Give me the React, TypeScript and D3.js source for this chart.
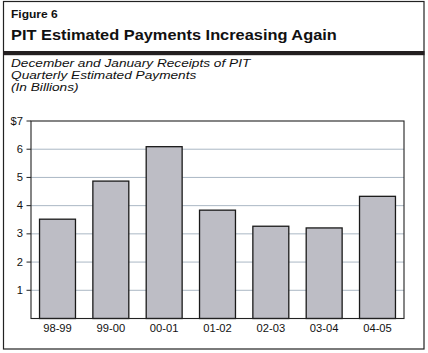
import * as d3 from "d3";

const years = ["98-99", "99-00", "00-01", "01-02", "02-03", "03-04", "04-05"];
const payments = [3.52, 4.87, 6.09, 3.84, 3.27, 3.21, 4.33];
const yTicks = [1, 2, 3, 4, 5, 6, 7];
const subtitle = [
  "December and January Receipts of PIT",
  "Quarterly Estimated Payments",
  "(In Billions)",
];

const W = 428;
const H = 353;
const font = "'Liberation Sans', Arial, Helvetica, sans-serif";

// plot area
const plot = { left: 31, right: 404, top: 121, bottom: 318.5 };

// the reference type is a little wider than Arial, so stretch it sideways
const Label = ({ x, y, sx = 1.12, children, ...rest }: any) => (
  <text transform={`translate(${x},${y}) scale(${sx},1)`} fill="#111" {...rest}>
    {children}
  </text>
);

const App = () => {
  const xScale = d3
    .scaleBand()
    .domain(years)
    .range([plot.left, plot.right])
    .paddingInner(0.326)
    .paddingOuter(0.16);

  const yScale = d3.scaleLinear().domain([0, 7]).range([plot.bottom, plot.top]);

  const bars = years.map((yr, i) => {
    const y = yScale(payments[i]);
    return (
      <rect
        key={yr}
        x={xScale(yr)}
        y={y}
        width={xScale.bandwidth()}
        height={plot.bottom - y}
        fill="#bdbdc5"
        stroke="#1a1a1a"
        strokeWidth={1.3}
      />
    );
  });

  return (
    <svg
      width={W}
      height={H}
      style={{ position: "absolute", left: 0, top: 0, display: "block" }}
      fontFamily={font}
    >
      <rect x={0} y={0} width={W} height={H} fill="#fff" />
      {/* outer frame */}
      <rect x={3.5} y={1.5} width={420.5} height={347.5} fill="none" stroke="#222" strokeWidth={1.2} />
      <rect x={3} y={51} width={421.5} height={4.2} fill="#231f20" />

      <Label x={11} y={17.5} sx={1.18} fontSize={10.2} fontWeight="bold">
        Figure 6
      </Label>
      <Label x={11} y={39.5} sx={1.17} fontSize={14} fontWeight="bold">
        PIT Estimated Payments Increasing Again
      </Label>
      {subtitle.map((s, i) => (
        <Label key={i} x={11} y={66.8 + i * 12.2} sx={1.19} fontSize={11.5} fontStyle="italic">
          {s}
        </Label>
      ))}

      {/* gridlines */}
      {yTicks.slice(0, -1).map((t) => (
        <line
          key={t}
          x1={plot.left}
          x2={plot.right}
          y1={yScale(t)}
          y2={yScale(t)}
          stroke="#aab7c4"
          strokeWidth={1}
        />
      ))}

      {bars}

      {/* plot frame */}
      <rect
        x={plot.left}
        y={plot.top}
        width={plot.right - plot.left}
        height={plot.bottom - plot.top}
        fill="none"
        stroke="#222"
        strokeWidth={1.1}
      />

      {/* y ticks and labels */}
      {yTicks.map((t) => (
        <g key={t}>
          <line x1={plot.left - 4.5} x2={plot.left} y1={yScale(t)} y2={yScale(t)} stroke="#222" strokeWidth={1} />
          <Label x={plot.left - 8} y={yScale(t)} dy="0.35em" textAnchor="end" fontSize={10}>
            {t === 7 ? "$7" : t}
          </Label>
        </g>
      ))}

      {/* x labels */}
      {years.map((yr) => (
        <Label
          key={yr}
          x={(xScale(yr) ?? 0) + xScale.bandwidth() / 2}
          y={332}
          textAnchor="middle"
          fontSize={10}
        >
          {yr}
        </Label>
      ))}
    </svg>
  );
};

export default App;
